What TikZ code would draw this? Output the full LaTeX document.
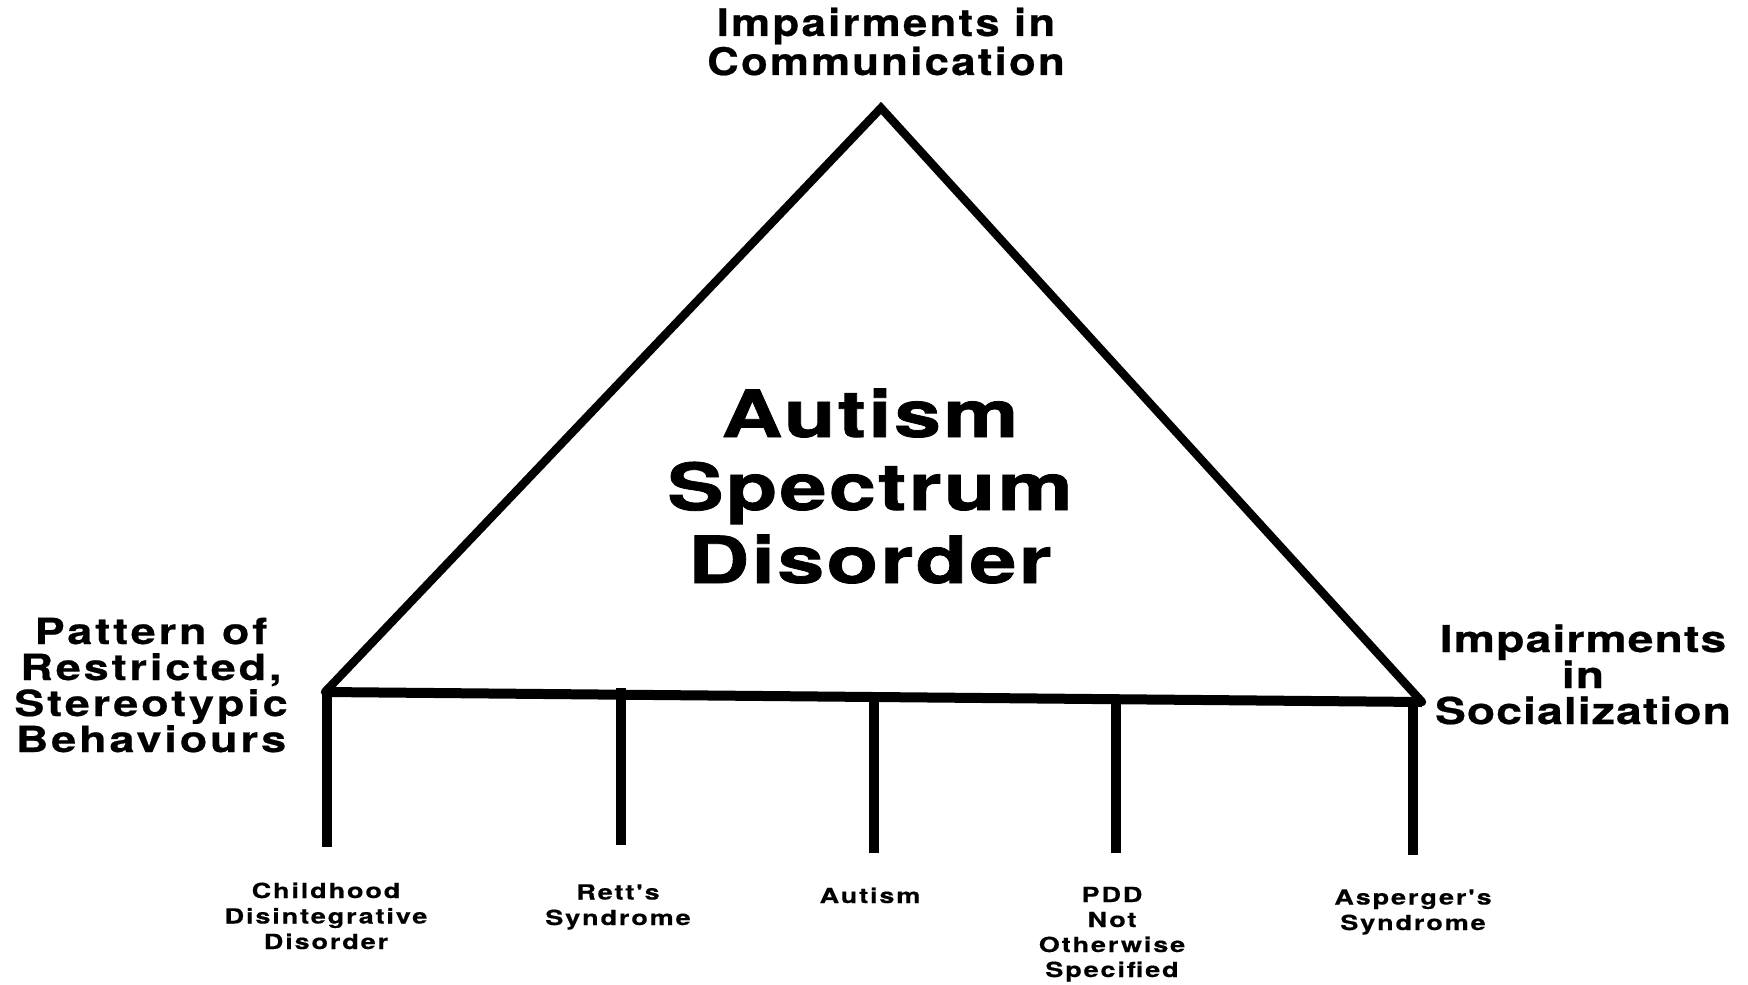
\documentclass[tikz,border=0pt]{standalone}
\usepackage{fontspec}
\newfontfamily\fcenter{TeX Gyre Heros}[FakeStretch=1.3,LetterSpace=3.5,FakeBold=1.2]
\newfontfamily\ftop{TeX Gyre Heros}[FakeStretch=1.15,LetterSpace=6,FakeBold=0.6]
\newfontfamily\fleft{TeX Gyre Heros}[FakeStretch=1.25,LetterSpace=8,FakeBold=0.6]
\newfontfamily\fright{TeX Gyre Heros}[FakeStretch=1.25,LetterSpace=3,FakeBold=0.6]
\newfontfamily\fbot{TeX Gyre Heros}[FakeStretch=1.3,LetterSpace=9,FakeBold=0.5]
\tikzset{
  lbl/.style={inner sep=0pt, align=center, anchor=base},
  side/.style={line width=4.2pt, line cap=round, line join=miter},
  baseln/.style={line width=5pt},
  stem/.style={line width=5pt},
}
\begin{document}
\begin{tikzpicture}[x=0.5pt,y=-0.5pt]
\useasboundingbox (0,0) rectangle (1748,984);
% triangle corners
\coordinate (A) at (881,108);
\coordinate (L) at (325,692);
\coordinate (R) at (1422,702);
% stems: tops on base line, feet
\coordinate (t1) at (327,692);  \coordinate (f1) at (327,847);
\coordinate (t2) at (621,688);  \coordinate (f2) at (621,845);
\coordinate (t3) at (874,697);  \coordinate (f3) at (874,853);
\coordinate (t4) at (1116,699); \coordinate (f4) at (1116,853);
\coordinate (t5) at (1413,702); \coordinate (f5) at (1413,855);

\draw[side] (L) -- (A) -- (R);
\draw[baseln] (L) -- (R);
\foreach \i in {1,...,5} \draw[stem] (t\i) -- (f\i);

% labels (anchor=base is the baseline of the last line)
\node[lbl, font=\fcenter\bfseries\fontsize{32.5}{36.5}\selectfont] (asd) at (870,583) {Autism\\Spectrum\\Disorder};
\node[lbl, font=\ftop\bfseries\fontsize{19}{19.5}\selectfont] (comm) at (886,75) {Impairments in\\Communication};
\node[lbl, font=\fleft\bfseries\fontsize{18}{18}\selectfont] (beh) at (151,752) {Pattern of\\Restricted,\\Stereotypic\\Behaviours};
\node[lbl, font=\fright\bfseries\fontsize{18.5}{18}\selectfont] (soc) at (1583,724) {Impairments\\in\\Socialization};

\node[lbl, font=\fbot\bfseries\fontsize{10.4}{12.75}\selectfont] (cdd) at (326,949) {Childhood\\Disintegrative\\Disorder};
\node[lbl, font=\fbot\bfseries\fontsize{10.4}{12.75}\selectfont] (rett) at (618,925) {Rett's\\Syndrome};
\node[lbl, font=\fbot\bfseries\fontsize{10.4}{12.75}\selectfont] (aut) at (870,903) {Autism};
\node[lbl, font=\fbot\bfseries\fontsize{10.4}{12.5}\selectfont] (pdd) at (1112,977) {PDD\\Not\\Otherwise\\Specified};
\node[lbl, font=\fbot\bfseries\fontsize{10.4}{12.75}\selectfont] (asp) at (1413,930) {Asperger's\\Syndrome};
\end{tikzpicture}
\end{document}
